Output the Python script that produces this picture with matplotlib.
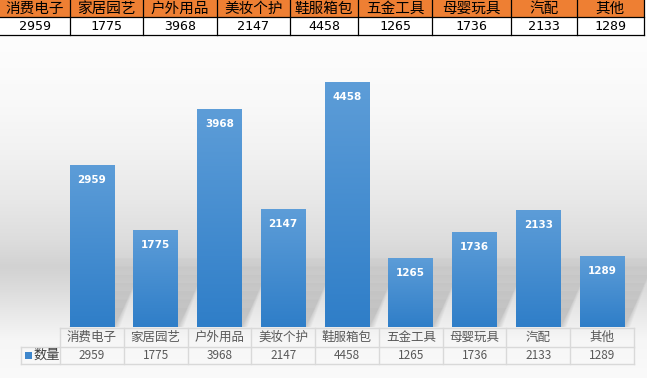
import numpy as np
import matplotlib
matplotlib.use('Agg')
import matplotlib.pyplot as plt
from matplotlib.patches import Rectangle, Polygon

plt.rcParams['font.family'] = ['Noto Sans CJK SC', 'DejaVu Sans']

categories = ['消费电子', '家居园艺', '户外用品', '美妆个护', '鞋服箱包', '五金工具', '母婴玩具', '汽配', '其他']
values = [2959, 1775, 3968, 2147, 4458, 1265, 1736, 2133, 1289]
series_name = '数量'
y_max = 5000

W, H = 647, 378
fig = plt.figure(figsize=(W / 100, H / 100), dpi=100)
fig.patch.set_facecolor('white')
bg = fig.add_axes([0, 0, 1, 1])
bg.axis('off')

# background gradient of chart area
stops_y = [36, 100, 150, 200, 240, 267, 290, 320, 340, 378]
stops_v = [253, 249, 242, 232, 221, 210, 220, 236, 246, 250]
yy = np.arange(36, 379)
gv = np.interp(yy, stops_y, stops_v) / 255
img = np.dstack([np.repeat(gv[:, None], 2, axis=1)] * 3)
bg.imshow(img, extent=[0, W, 378, 36], aspect='auto', interpolation='bilinear', zorder=0)
bg.set_xlim(0, W)
bg.set_ylim(H, 0)

# top table
cols = [0, 70, 143, 217, 290, 358, 432, 511, 577, 644]
bg.add_patch(Rectangle((0, 0), cols[-1], 17, facecolor='#EE7F33', edgecolor='none', zorder=1))
bg.add_patch(Rectangle((0, 17), cols[-1], 18, facecolor='white', edgecolor='none', zorder=1))
for yl in [17, 35]:
    bg.plot([0, cols[-1]], [yl, yl], color='black', lw=0.9, zorder=2)
for xl in cols[1:]:
    bg.plot([xl, xl], [0, 35], color='black', lw=0.9, zorder=2)
for i, (c, v) in enumerate(zip(categories, values)):
    xc = (cols[i] + cols[i + 1]) / 2
    bg.text(xc, 8.5, c, ha='center', va='center', fontsize=10.5, color='black', zorder=3)
    bg.text(xc, 26.5, str(v), ha='center', va='center', fontsize=9.5, color='black',
            family='DejaVu Sans Mono', zorder=3)

# bar axes
px_left, px_right, px_bottom = 60, 634, 327
px_top = px_bottom - 274.5
ax = fig.add_axes([px_left / W, (H - px_bottom) / H, (px_right - px_left) / W, (px_bottom - px_top) / H])
ax.patch.set_alpha(0)
ax.set_xlim(-0.5, len(categories) - 0.5)
ax.set_ylim(0, y_max)
ax.axis('off')

x = np.arange(len(categories))
bw = 0.70
bars = ax.bar(x, values, width=bw, facecolor='none', edgecolor='none', zorder=3)

# soft shadows behind bars
for i, b in enumerate(bars):
    x0 = b.get_x()
    x1 = x0 + b.get_width()
    for k in range(7):
        hgt = 350 + k * 150
        dx = 0.15 + k * 0.055
        poly = Polygon([(x0, 0), (x1 + 0.015 * k, 0), (x1 + dx, hgt), (x0 + dx, hgt)],
                       closed=True, facecolor='#505050', edgecolor='none', alpha=0.035,
                       zorder=1, clip_on=False)
        ax.add_patch(poly)

top_c = np.array([93, 157, 216]) / 255
bot_c = np.array([47, 126, 200]) / 255
t = np.linspace(0, 1, 100)[:, None]
grad = (top_c[None, :] * (1 - t) + bot_c[None, :] * t)[:, None, :]
grad = np.repeat(grad, 2, axis=1)
for b, v in zip(bars, values):
    x0 = b.get_x()
    x1 = x0 + b.get_width()
    im = ax.imshow(grad, extent=[x0, x1, 0, v], aspect='auto', interpolation='bilinear', zorder=2)
    im.set_clip_path(b)
    ax.annotate(str(v), (b.get_x() + b.get_width() / 2, v), xytext=(0, -15), textcoords='offset pixels',
                ha='center', va='center', color='white', fontsize=7.5, fontweight='bold',
                family='DejaVu Sans', zorder=4)
ax.set_xlim(-0.5, len(categories) - 0.5)
ax.set_ylim(0, y_max)

# bottom data table (pixel coords, aligned with bar axes)
cw = (px_right - px_left) / len(categories)
r1t, r1b, r2b = 328, 347, 364
lc = '#D9D9D9'
bg.plot([px_left, px_right], [r1t, r1t], color=lc, lw=1, zorder=2)
bg.plot([21, px_right], [r1b, r1b], color=lc, lw=1, zorder=2)
bg.plot([21, px_right], [r2b, r2b], color=lc, lw=1, zorder=2)
bg.plot([21, 21], [r1b, r2b], color=lc, lw=1, zorder=2)
for k in range(len(categories) + 1):
    xl = px_left + k * cw
    bg.plot([xl, xl], [r1t, r2b], color=lc, lw=1, zorder=2)
for i, (c, v) in enumerate(zip(categories, values)):
    xc = px_left + (i + 0.5) * cw
    bg.text(xc, (r1t + r1b) / 2, c, ha='center', va='center', fontsize=9, color='#595959', zorder=3)
    bg.text(xc, (r1b + r2b) / 2, str(v), ha='center', va='center', fontsize=8.5, color='#595959', zorder=3)
bg.add_patch(Rectangle((25, 352), 7, 7, facecolor='#3E86CC', edgecolor='none', zorder=3))
bg.text(33, (r1b + r2b) / 2, series_name, ha='left', va='center', fontsize=9.5, color='#404040', zorder=3)

fig.savefig('out.png', dpi=100)
